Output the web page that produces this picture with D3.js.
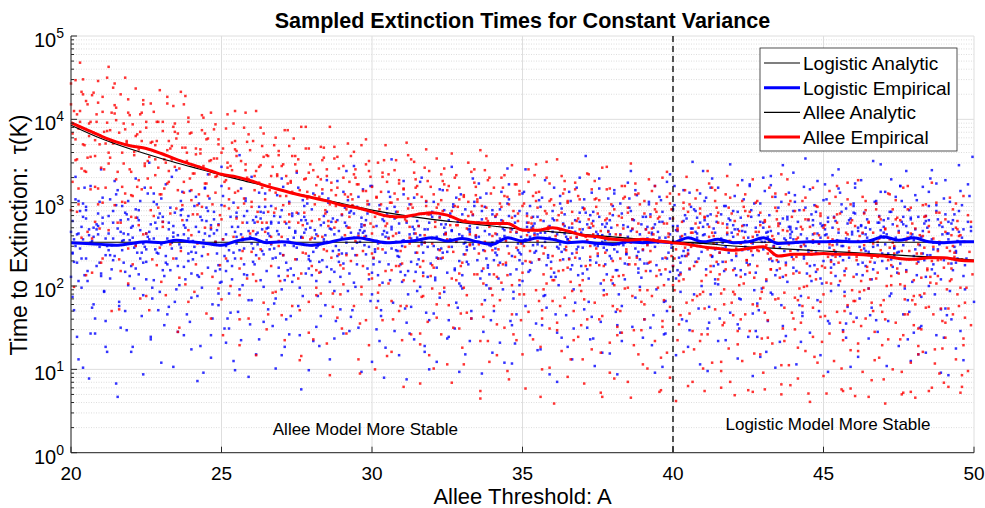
<!DOCTYPE html>
<html><head><meta charset="utf-8">
<script src="https://cdn.jsdelivr.net/npm/d3@7"></script>
<style>
body{margin:0;background:#fff}
text{font-family:"Liberation Sans",Arial,Helvetica,sans-serif;fill:#000}
</style>
</head><body>
<svg id="chart" width="985" height="508"></svg>
<script>
// ---------- data ----------
const xTickValues = [20, 25, 30, 35, 40, 45, 50];
const yTickExponents = [0, 1, 2, 3, 4, 5];
const thresholdLine = 40;
const titleText = "Sampled Extinction Times for Constant Variance";
const xLabelText = "Allee Threshold: A";
const yLabelText = "Time to Extinction:  \u03c4(K)";
const legendLabels = ["Logistic Analytic", "Logistic Empirical", "Allee Analytic", "Allee Empirical"];
const annotations = [{text: "Allee Model More Stable", A: 29.78, tau: 1.63}, {text: "Logistic Model More Stable", A: 45.15, tau: 1.87}];

// Logistic analytic (constant)
const logisticAnalyticA = [20, 50];
const logisticAnalyticTau = [335, 335];

// Empirical curves sampled every 0.5 in A
const empiricalA = [20,20.5,21,21.5,22,22.5,23,23.5,24,24.5,25,25.5,26,26.5,27,27.5,28,28.5,29,29.5,30,30.5,31,31.5,32,32.5,33,33.5,34,34.5,35,35.5,36,36.5,37,37.5,38,38.5,39,39.5,40,40.5,41,41.5,42,42.5,43,43.5,44,44.5,45,45.5,46,46.5,47,47.5,48,48.5,49,49.5,50];
const logisticEmpiricalTau = [331,324,316,309,324,339,331,355,339,324,309,347,372,331,339,324,309,331,363,380,355,331,339,355,380,347,372,339,316,380,347,380,363,331,339,324,316,339,331,339,331,380,339,363,331,339,380,324,331,339,339,347,339,347,389,355,380,339,331,339,339];
const alleeEmpiricalTau = [9120,7590,6310,5370,4790,4470,3890,3310,2880,2510,2190,2040,1820,1580,1410,1260,1150,1050,933,871,776,692,676,724,759,708,603,575,562,562,468,468,501,457,407,389,363,355,363,347,331,316,295,282,269,282,295,229,240,240,245,240,240,234,229,214,209,219,219,204,200];

// Allee analytic, every 1 in A
const alleeAnalyticA = [20,21,22,23,24,25,26,27,28,29,30,31,32,33,34,35,36,37,38,39,40,41,42,43,44,45,46,47,48,49,50];
const alleeAnalyticTau = [8510,5890,4370,3390,2690,2140,1740,1410,1170,977,813,708,631,575,525,479,447,417,389,363,339,324,302,288,275,263,251,240,229,219,204];

// Sampled extinction times: each entry AAALLL, A = 20 + AAA/20, log10(tau) = LLL/100
const logisticSamples = `
003248 001187 007271 005302 002229 008256 004139 009213 006290 000265 003331 007198 005112 001239 008283
012261 017224 010295 015178 019247 013320 011206 018272 016143 014254 012089 019301 010233 017268
021275 026237 023158 028290 020212 025263 029326 022194 027249 024121 021282 028231 026304 023257
034243 031269 038201 036288 032176 039255 030310 035228 037147 033279 031067 038262 036217 034296
041258 046233 043292 048189 040270 045214 049318 042246 047164 044282 041127 048251 046302 043221
052265 057240 054198 059287 050229 055311 051259 058171 056276 053136 050244 057298 055207 052348
063236 068272 061219 066294 069181 064257 060305 067245 062153 065268 068103 061283 064226 067331
071261 076208 073285 078239 070196 075273 079314 072250 077166 074292 071224 078257 075141 073302
082247 087279 084213 089263 080186 085299 081232 088255 086128 083271 089317 080241 087198 084086
093268 098225 091290 096252 099204 094161 090278 097239 092305 095263 098177 091334 096218 093114
101256 106283 103218 108240 100297 105191 109265 102149 107271 104230 100320 107208 103262 109099
112243 117276 114201 119259 110288 115226 111169 118266 116302 113135 110251 117213 115284 112357
123262 128238 121279 126207 129295 124250 120183 127268 122226 125312 128157 121245 126289 123118
131270 136234 133296 138212 130255 135179 139283 132244 137309 134152 131263 138222 136101 133277
142249 147284 144219 149266 140196 145301 141237 148258 146164 143275 140329 147205 145253 142127
153258 158232 151287 156215 159270 154188 150246 157299 152141 155264 158221 151318 156279 153076
161241 166273 163206 168256 160292 165229 169177 162267 167311 164248 161134 168284 166217 163262
172269 177236 174281 179211 170253 175194 171305 178243 176158 173277 170223 177326 175262 172112
183252 188287 181227 186264 189199 184303 180239 187171 182276 185215 188258 181143 186290 183338
191263 196238 193274 198208 190295 195249 199182 192267 197221 194316 191150 198256 196279 193097
202244 207280 204213 209259 200190 205297 201233 208266 206164 203272 200320 207204 204251 209126
213271 218235 211258 216289 219217 214180 210264 217242 212307 215146 218275 211226 216253 213352
221255 226229 223283 228263 220205 225298 229240 222173 227271 224218 221310 228136 226257 223088
232261 237247 234216 239286 230194 235268 231232 238159 236301 233253 230278 237211 235121 232325
241248 246274 243222 248291 240257 245186 249264 242207 247315 244233 241167 248270 246245 243109
253266 258230 251279 256253 259200 254295 250241 257174 252287 255219 258262 251139 256306 253343
262252 267285 264226 269260 260197 265272 261238 268301 266161 263247 260213 267329 265268 262118
271259 276233 273290 278214 270270 275183 279248 272306 277225 274145 271276 278262 276201 273095
282245 287275 284209 289256 280291 285228 281170 288267 286313 283237 280252 287196 285132 282283
293268 298240 291284 296220 299259 294193 290299 297251 292158 295276 298231 291322 296264 293107
301255 306228 303287 308263 300206 305296 309242 302176 307272 304217 300311 307249 305141 302340
312264 317237 314278 319211 310250 315189 311303 318258 316225 313153 310283 317269 315327 312124
323247 328272 321216 326293 329259 324201 320265 327232 322166 325308 328244 321279 326138 323085
331270 336244 333225 338288 330256 335180 339264 332302 337213 334149 331233 338277 336318 333112
342253 347278 344209 349265 340294 345231 341172 348249 346312 343220 340268 347137 345285 342356
353261 358236 351283 356214 359270 354195 350248 357305 352157 355226 358262 351329 356275 353120
361244 366287 363219 368256 360203 365299 369238 362169 367273 364250 361315 368227 366134 363094
372266 377241 374279 379210 370259 375186 371294 378232 376309 373151 370271 377216 375255 372338
383250 388274 381227 386262 389196 384301 380243 387165 382283 385218 388320 381253 386129 383271
391258 396233 393289 398217 390265 395182 399246 392303 397208 394142 391277 398262 396325 393103
402267 407242 404213 409281 400254 405193 401297 408236 406160 403272 400224 407315 405259 402117
413249 418276 411220 416258 419200 414292 410238 417173 412269 415229 418311 411147 416263 413349
421262 426235 423284 428208 420271 425190 429251 422306 427224 424156 421279 428244 426329 423098
432255 437281 434218 439264 430202 435296 431240 438168 436274 433229 430318 437253 435135 432286
441268 446243 443289 448214 440259 445184 449273 442236 447304 444149 441221 448265 446327 443113
453251 458277 451226 456261 459197 454299 450244 457171 452283 455216 458256 451322 456139 453092
462264 467238 464285 469219 460270 465192 461253 468307 466230 463158 460276 467248 465332 462121
471246 476280 473211 478258 470294 475228 479265 472177 477312 474242 471133 478271 476205 473345
482269 487233 484291 489215 480256 485188 481301 488248 486164 483277 480222 487319 485262 482106
493252 498275 491224 496263 499203 494297 490240 497170 492286 495217 498258 491144 496326 493279
501261 506237 503282 508212 500273 505194 509250 502304 507226 504155 501268 508241 506333 503097
512248 517279 514218 519265 510201 515293 511236 518167 516275 513231 510317 517256 515138 512289
523266 528242 521287 526213 529258 524185 520299 527245 522162 525272 528224 521323 526263 523115
531253 536276 533220 538260 530197 535302 539239 532174 537284 534228 531268 538313 536145 533350
542262 547236 544289 549216 540271 545191 541250 548307 546223 543158 540279 547246 545328 542104
553249 558282 551227 556264 559205 554295 550241 557169 552277 555219 558259 551320 556136 553274
561268 566239 563283 568211 560255 565187 569270 562303 567231 564150 561244 568278 566319 563118
572256 577273 574215 579262 570200 575297 571237 578172 576280 573226 570313 577251 575141 572339
583263 588240 581286 586219 589254 584194 580305 587247 582165 585275 588228 581327 586268 583093
591250 596277 593212 598266 590290 595233 600181 592258 597308 594225 591146 598271 596322 593111 599355
002256 004228 001278 003304 000211 002171 004262 001240
013252 007233 010281 005206 012268 008299 014174 006245 011218 009318 013143 005263 010291 008102
023237 017274 020215 015259 022193 018287 024248 016161 021306 019228 023127 015270 020340 018262
033265 027220 030297 025243 032181 028276 034254 026209 031315 029236 033150 025284 030083 028257
043249 037286 040224 035263 042197 038302 044240 036170 041272 039212 043329 035255 040121 038280
053274 047240 050208 045291 052256 048228 054185 046267 051311 049247 053139 045279 050263 048094
063228 057269 060250 055301 062212 058282 064166 056244 061277 059193 063322 055257 060108 058239
073291 067252 070233 065276 072201 068264 074313 066219 071145 069288 073246 065175 070339 068259
083240 077279 080215 075262 082296 078230 084188 076270 081254 079157 083307 075223 080124 078284
093273 087236 090294 085211 092260 088247 094178 086283 091222 089318 093141 085265 090251 088096
103248 097267 100205 095289 102236 098274 104161 096253 101308 099220 103132 095280 100343 098191
113262 107224 110283 105243 112196 108300 114255 106168 111271 109233 113317 105149 110259 108110
123237 117290 120251 115214 122276 118183 124264 116305 121229 119154 123283 115245 120331 118091
133275 127242 130218 125295 132260 128199 134233 126281 131172 129311 133250 125136 130269 128288
143228 137266 140291 135245 142207 138276 144256 136185 141319 139239 143160 135284 140117 138262
153259 147287 150232 145270 152198 148248 154303 146221 151176 149264 153279 145142 150336 148213
163246 157275 160213 155296 162257 158236 164188 156268 161311 159230 163151 155283 160249 158099
173268 167231 170289 165250 172205 168276 174242 166164 171300 169261 173220 165128 170327 168253
183239 177279 180258 175217 182294 178266 184194 176248 181313 179172 183272 175137 180285 178229
193271 187245 190226 185288 192253 188204 194264 186163 191307 189237 193282 185146 190252 188344
203254 197287 200216 195266 202241 198298 204182 196260 201226 199320 203148 195273 200109 198247
213245 207262 210293 205229 212207 208278 214252 206171 211313 209240 213268 205134 210286 208090
223276 217236 220254 215295 222213 218264 224190 216243 221326 219226 223156 215281 220248 218117
233250 227284 230226 225262 232199 228306 234240 226175 231272 229217 233330 225143 230258 228268
243234 237268 240289 235252 242210 238276 244244 236168 241301 239227 243259 235128 240283 238100
253267 247240 250216 245283 252256 248193 254298 246233 251159 249274 253247 245316 250137 248262
263243 257277 260260 255221 262292 258203 264268 256180 261251 259310 263229 255149 260286 258097
273280 267250 270231 265265 272209 268296 274243 266170 271323 269258 273218 265134 270276 268245
283254 277222 280286 275266 282240 278197 284275 276311 281231 279159 283262 275295 280120 278249
293236 287269 290248 285292 292214 288260 294185 286279 291304 289225 293153 285257 290341 288108
303271 297243 300227 295284 302256 298201 304265 296166 301313 299238 303276 295131 300251 298290
313248 307283 310262 305219 312295 308240 314188 306270 311232 309155 313306 305259 310123 308275
323262 317234 320290 315253 322211 318272 324245 316174 321318 319229 323144 315264 320281 318094
333239 327275 330256 325299 332220 328263 334196 326241 331313 329165 333270 325250 330127 328286
343274 337247 340215 335265 342288 338233 344181 336258 341304 339224 343150 335279 340246 338330
353253 347289 350236 345270 352203 348258 354246 346163 351317 349228 353274 345136 350262 348104
363241 357266 360296 355255 362219 358279 364190 356243 361311 359233 363153 355271 360285 358119
373280 367249 370226 365262 372290 368208 374256 366176 371305 369239 373268 365144 370324 368252
383257 377221 380283 375245 382268 378199 384298 376236 381160 379274 383227 375315 380138 378262
393233 387270 390255 385286 392214 388247 394181 386264 391307 389225 393277 385150 390252 388096
403266 397240 400292 395258 402209 398281 404234 396170 401320 399250 403219 395143 400272 398334
413251 407278 410243 405216 412295 408262 414190 406236 411312 409158 413269 405228 410127 408285
423274 417233 420261 415290 422220 418248 424175 416282 421302 419241 423149 415265 420338 418106
433245 427269 430226 425286 432257 428203 434296 426236 431161 429277 433252 425318 430134 428264
443268 437240 440290 435254 442213 438279 444185 436262 441308 439231 443154 435247 440273 438346
453237 447273 450258 445219 452291 448247 454195 446266 451320 449228 453167 445282 450139 448254
463259 457285 460244 455270 462206 458299 464232 456179 461314 459253 463265 455146 460330 458115
473281 467248 470229 465266 472301 468213 474257 466190 471275 469236 473152 465321 470263 468102
483243 477271 480290 475255 482218 478262 484177 476283 481309 479235 483252 475140 480336 478268
493262 487236 490279 485248 492206 488294 494225 486168 491316 489257 493273 485133 490243 488353
503277 497251 500230 495289 502262 498209 504246 496183 501322 499272 503158 495240 500303 498117
513248 507283 510264 505222 512298 508239 514193 506270 511312 509255 513147 505231 510340 508278
523270 517234 520296 515257 522214 518281 524247 516175 521318 519262 523226 515155 520288 518103
533254 527288 530241 525273 532208 528262 534301 526228 531165 529280 533247 525327 530137 528270
543239 537276 540258 535299 542221 538267 544188 536249 541313 539230 543281 535159 540264 538346
553283 547245 550266 545232 552302 548255 554197 546274 551320 549240 553166 545289 550128 548258
563257 557291 560236 555272 562213 558280 564249 556183 561309 559262 563229 555338 560144 558110
573244 567275 570296 565259 572220 568284 574190 566266 571329 569237 573252 565152 570279 568120
583277 577250 580231 575290 582263 578208 584301 576244 581173 579271 583256 575323 580138 578096
593253 587286 590265 585227 592297 588242 594196 586279 591314 589233 593268 585160 590345 588125
`;

const alleeSamples = `
002199 007258 000291 005317 009338 003351 008370 001383 006397 004406 000418 008430 003447 006468
014216 011265 018298 016319 010337 013355 019370 015384 012395 017406 011418 014429 018446 016277
027170 021233 025267 029297 023318 020342 026354 028371 022385 024396 027408 021427 029443 025463
033218 038245 031276 036300 030328 039340 034360 037374 032384 035395 038408 030414 033430 036311
046185 041226 048262 043282 040309 045327 049347 042361 047374 044382 041394 046406 048418 043437
052171 057225 050263 055284 059310 053318 058342 051350 056369 054373 050390 057397 053419 059435
063189 068233 061271 066287 060310 064323 069343 062352 067368 065374 068391 061397 064419 066250
071145 076202 073242 078267 070293 075312 079329 072341 077360 074366 071383 078397 075418 073433
082193 087215 084251 089270 080303 085310 081335 088344 086359 083365 089383 080384 087405 084286
093161 098197 091238 096253 099285 094298 090323 097332 092350 095353 098370 091377 096394 093408
101141 106200 103233 108259 100280 105293 109312 102325 107339 104348 100360 107372 103389 109410
112160 117209 114242 119263 110281 115299 111314 118328 116339 113350 110362 117373 115390 112221
123117 128180 121214 126244 129265 124289 120301 127318 122332 125343 128355 121374 126390 123410
131166 136193 133224 138248 130276 135288 139308 132322 137332 134343 131356 138362 136378 133259
142135 147176 144212 149232 140259 145277 141297 148311 146324 143332 140344 147356 145368 142387
153116 158181 151209 156239 159256 154273 150288 157305 152315 155328 158336 151352 156365 153391
161136 166191 163219 168244 160258 165280 169291 162309 167316 164331 161339 168354 166367 163198
172093 177162 174191 179225 170242 175270 171278 178299 176309 173324 170332 177355 175367 172391
183143 188176 181202 186230 189254 184270 180286 187304 182310 185325 188334 181344 186356 183237
191112 196159 193190 198214 190237 195259 199275 192293 197302 194314 191322 198338 196346 193369
202100 207159 204192 209218 200239 205252 201271 208284 206298 203307 200319 207331 204348 209369
213121 218170 211203 216224 219242 214260 210275 217289 212300 215311 218323 211334 216351 213182
221079 226142 223176 228206 220227 225251 229263 222280 227294 224305 221317 228336 226352 223372
232130 237157 234188 239212 230240 235252 231272 238286 236296 233307 230320 237326 235342 232223
241101 246142 243178 248198 240225 245243 249263 242277 247290 244298 241310 248322 246334 243353
253084 258149 251177 256207 259224 254241 250256 257273 252283 255296 258304 251320 256333 253359
261106 266161 263189 268214 260228 265250 269261 262279 267286 264301 261309 268324 266337 263168
272065 277134 274163 279197 270214 275242 271250 278271 276281 273296 270304 277327 275339 272363
283117 288150 281176 286204 289228 284244 280260 287278 282284 285299 288308 281318 286330 283211
291088 296135 293166 298190 290213 295235 299251 292269 297278 294290 291298 298314 296322 293345
302077 307136 304169 309195 300216 305229 301248 308261 306275 303284 300296 307308 304325 309346
313100 318149 311182 316203 319221 314239 310254 317268 312279 315290 318302 311313 316330 313161
321059 326122 323156 328186 320207 325231 329243 322260 327274 324285 321297 328316 326332 323352
332112 337139 334170 339194 330222 335234 331254 338268 336278 333289 330302 337308 335324 332205
341083 346124 343160 348180 340207 345225 349245 342259 347272 344280 341292 348304 346316 343335
353067 358132 351160 356190 359207 354224 350239 357256 352266 355279 358287 351303 356316 353342
361089 366144 363172 368197 360211 365233 369244 362262 367269 364284 361292 368307 366320 363151
372066 377118 374147 379181 370198 375226 371234 378255 376265 373280 370288 377311 375323 372347
383101 388134 381160 386188 389212 384228 380244 387262 382268 385283 388292 381302 386314 383195
391073 396120 393151 398175 390198 395220 399236 392254 397263 394275 391283 398299 396307 393330
402062 407121 404154 409180 400201 405214 401233 408246 406260 403269 400281 407293 404310 409331
413085 418134 411167 416188 419206 414224 410239 417253 412264 415275 418287 411298 416315 413146
421074 426108 423142 428172 420193 425217 429229 422246 427260 424271 421283 428302 426318 423338
432098 437125 434156 439180 430208 435220 431240 438254 436264 433275 430288 437294 435310 432191
441069 446110 443146 448166 440193 445211 449231 442245 447258 444266 441278 448290 446302 443321
453073 458118 451146 456176 459193 454210 450225 457242 452252 455265 458273 451289 456302 453328
461076 466131 463159 468184 460198 465220 469231 462249 467256 464271 461279 468294 466307 463138
472070 477105 474134 479168 470185 475213 471221 478242 476252 473267 470275 477298 475310 472334
483089 488122 481148 486176 489200 484216 480232 487250 482256 485271 488280 481290 486302 483183
491061 496108 493139 498163 490186 495208 499224 492242 497251 494263 491271 498287 496295 493318
502071 507110 504143 509169 500190 505203 501222 508235 506249 503258 500270 507282 504299 509320
513074 518123 511156 516177 519195 514213 510228 517242 512253 515264 518276 511287 516304 513135
521068 526097 523131 528161 520182 525206 529218 522235 527249 524260 521272 528291 526307 523327
532087 537114 534145 539169 530197 535209 531229 538243 536253 533264 530277 537283 535299 532180
541059 546100 543136 548156 540183 545201 549221 542235 547248 544256 541268 548280 546292 543311
553072 558108 551136 556166 559183 554200 550215 557232 552242 555255 558263 551279 556292 553318
561066 566121 563149 568174 560188 565210 569221 562239 567246 564261 561269 568284 566297 563128
572078 577095 574124 579158 570175 575203 571211 578232 576242 573257 570265 577288 575300 572324
583079 588112 581138 586166 589190 584206 580222 587240 582246 585261 588270 581280 586292 583173
591072 596098 593129 598153 590176 595198 599214 592232 597241 594253 591261 598277 596285 593308
002410 004352 001325 003376 000443 004289
013397 007341 010422 005298 012380 008448 014257 006410 011354 009369 007433 013316 005389 010213
016356 021409 018317 024386 019269 015432 022340 017397 023371 020228 018420 021300 024450 016375
030399 034319 025360 029417 033276 027374 031337 028438 032232 026387 034301 029407 025347 032172
042357 038424 044319 036388 040283 035347 039405 043248 037372 041308 036450 040337 043380 038203
053372 047316 050397 045273 052355 048423 054232 046385 051329 049344 047408 053291 045364 050188
056333 061386 058294 064363 059246 055409 062317 057374 063348 060205 058397 061277 064427 056352
070377 074297 065338 069395 073254 067352 071315 068416 072210 066365 074279 069385 065325 072150
082335 078402 084297 076366 080261 075325 079383 083226 077350 081286 076428 080315 083358 078181
093351 087295 090376 085252 092334 088402 094211 086364 091308 089323 087387 093270 085343 090167
096312 101365 098273 104342 099225 095388 102296 097353 103327 100184 098376 101256 104406 096331
110356 114276 105317 109374 113233 107331 111294 108395 112189 106344 114258 109364 105304 112129
122315 118382 124277 116346 120241 115305 119363 123206 117330 121266 116408 120295 123338 118161
133332 127276 130357 125233 132315 128383 134192 126345 131289 129304 127368 133251 125324 130148
136293 141346 138254 144323 139206 135369 142277 137334 143308 140165 138357 141237 144387 136312
150338 154258 145299 149356 153215 147313 151276 148377 152171 146326 154240 149346 145286 152111
162298 158365 164260 156329 160224 155288 159346 163189 157313 161249 156391 160278 163321 158144
173315 167259 170340 165216 172298 168366 174175 166328 171272 169287 167351 173234 165307 170131
176277 181330 178238 184307 179190 175353 182261 177318 183292 180149 178341 181221 184371 176296
190322 194242 185283 189340 193199 187297 191260 188361 192155 186310 194224 189330 185270 192095
202283 198350 204245 196314 200209 195273 199331 203174 197298 201234 196376 200263 203306 198129
213300 207244 210325 205201 212283 208351 214160 206313 211257 209272 207336 213219 205292 210116
216263 221316 218224 224293 219176 215339 222247 217304 223278 220135 218327 221207 224357 216282
230310 234230 225271 229328 233187 227285 231248 228349 232143 226298 234212 229318 225258 232083
242271 238338 244233 236302 240197 235261 239319 243162 237286 241222 236364 240251 243294 238117
253290 247234 250315 245191 252273 248341 254150 246303 251247 249262 247326 253209 245282 250106
256254 261307 258215 264284 259167 255330 262238 257295 263269 260126 258318 261198 264348 256273
270301 274221 265262 269319 273178 267276 271239 268340 272134 266289 274203 269309 265249 272074
282263 278330 284225 276294 280189 275253 279311 283154 277278 281214 276356 280243 283286 278109
293282 287226 290307 285183 292265 288333 294142 286295 291239 289254 287318 293201 285274 290098
296246 301299 298207 304276 299159 295322 302230 297287 303261 300118 298310 301190 304340 296265
310294 314214 305255 309312 313171 307269 311232 308333 312127 306282 314196 309302 305242 312067
322256 318323 324218 316287 320182 315246 319304 323147 317271 321207 316349 320236 323279 318102
333275 327219 330300 325176 332258 328326 334135 326288 331232 329247 327311 333194 325267 330091
336240 341293 338201 344270 339153 335316 342224 337281 343255 340112 338304 341184 344334 336259
350287 354207 345248 349305 353164 347262 351225 348326 352120 346275 354189 349295 345235 352072
362250 358317 364212 356281 360176 355240 359298 363141 357265 361201 356343 360230 363273 358096
373269 367213 370294 365170 372252 368320 374129 366282 371226 369241 367305 373188 365261 370085
376234 381287 378195 384264 379147 375310 382218 377275 383249 380106 378298 381178 384328 376253
390281 394201 385242 389299 393158 387256 391219 388320 392114 386269 394183 389289 385229 392075
402244 398311 404206 396275 400170 395234 399292 403135 397259 401195 396337 400224 403267 398090
413264 407208 410289 405165 412247 408315 414124 406277 411221 409236 407300 413183 405256 410080
416229 421282 418190 424259 419142 415305 422213 417270 423244 420101 418293 421173 424323 416248
430276 434196 425237 429294 433153 427251 431214 428315 432109 426264 434178 429284 425224 432078
442239 438306 444201 436270 440165 435229 439287 443130 437254 441190 436332 440219 443262 438085
453259 447203 450284 445160 452242 448310 454119 446272 451216 449231 447295 453178 445251 450075
456224 461277 458185 464254 459137 455300 462208 457265 463239 460096 458288 461168 464318 456243
470272 474192 465233 469290 473149 467247 471210 468311 472105 466260 474174 469280 465220 472082
482235 478302 484197 476266 480161 475225 479283 483126 477250 481186 476328 480215 483258 478081
493255 487199 490280 485156 492238 488306 494115 486268 491212 489227 487291 493174 485247 490071
496220 501273 498181 504250 499133 495296 502204 497261 503235 500092 498284 501164 504314 496239
510268 514188 505229 509286 513145 507243 511206 508307 512101 506256 514170 509276 505216 512076
522231 518298 524193 516262 520157 515221 519279 523122 517246 521182 516324 520211 523254 518077
533251 527195 530276 525152 532234 528302 534111 526264 531208 529223 527287 533170 525243 530067
536216 541269 538177 544246 539129 535292 542200 537257 543231 540088 538280 541160 544310 536235
550264 554184 545225 549282 553141 547239 551202 548303 552097 546252 554166 549272 545212 552070
562227 558294 564189 556258 560153 555217 559275 563118 557242 561178 556320 560207 563250 558073
573247 567191 570272 565148 572230 568298 574107 566260 571204 569219 567283 573166 565239 570074
576212 581265 578173 584242 579125 575288 582196 577253 583227 580084 578276 581156 584306 576231
590260 594180 585221 589278 593137 587235 591198 588299 592093 586248 594162 589268 585208 592079
`;

// ---------- layout ----------
const svg = d3.select("#chart");
const W = 985, H = 508;
const plot = {left: 71, right: 974, top: 36, bottom: 452.7};
const axisColor = "#262626";

svg.append("rect").attr("width", W).attr("height", H).attr("fill", "#fff");

const x = d3.scaleLinear().domain([20, 50]).range([plot.left, plot.right]);
const y = d3.scaleLog().domain([1, 1e5]).range([plot.bottom, plot.top]);

function decode(s) {
  return s.trim().split(/\s+/).map(t => ({A: 20 + (+t.slice(0, 3)) / 20, tau: Math.pow(10, (+t.slice(3)) / 100)}));
}
const logisticPts = decode(logisticSamples);
const alleePts = decode(alleeSamples);

// ---------- grid ----------
const grid = svg.append("g");
const allYTicks = y.ticks();
const majorY = yTickExponents.map(e => Math.pow(10, e));
const minorY = allYTicks.filter(v => !majorY.some(m => Math.abs(m - v) < 1e-9));
grid.selectAll(".minY").data(minorY).join("line")
  .attr("x1", plot.left).attr("x2", plot.right)
  .attr("y1", d => y(d)).attr("y2", d => y(d))
  .attr("stroke", "#d4d4d4").attr("stroke-width", 0.8).attr("stroke-dasharray", "1,1.5");
grid.selectAll(".majY").data(majorY).join("line")
  .attr("x1", plot.left).attr("x2", plot.right)
  .attr("y1", d => y(d)).attr("y2", d => y(d))
  .attr("stroke", "#dedede").attr("stroke-width", 1);
grid.selectAll(".majX").data(xTickValues).join("line")
  .attr("x1", d => x(d)).attr("x2", d => x(d))
  .attr("y1", plot.top).attr("y2", plot.bottom)
  .attr("stroke", "#dedede").attr("stroke-width", 1);

// ---------- scatter ----------
const sc = svg.append("g");
const dot = 2.5;
sc.selectAll(".lp").data(logisticPts).join("rect")
  .attr("x", d => x(d.A) - dot / 2).attr("y", d => y(d.tau) - dot / 2)
  .attr("width", dot).attr("height", dot).attr("fill", "#0000ff").attr("opacity", 0.8);
sc.selectAll(".ap").data(alleePts).join("rect")
  .attr("x", d => x(d.A) - dot / 2).attr("y", d => y(d.tau) - dot / 2)
  .attr("width", dot).attr("height", dot).attr("fill", "#ff0000").attr("opacity", 0.8);

// ---------- curves ----------
const lineGen = d3.line().x(d => x(d[0])).y(d => y(d[1])).curve(d3.curveMonotoneX);
const curves = [
  {A: logisticAnalyticA, tau: logisticAnalyticTau, color: "#000", w: 1.2},
  {A: empiricalA, tau: logisticEmpiricalTau, color: "#0000ff", w: 3},
  {A: alleeAnalyticA, tau: alleeAnalyticTau, color: "#000", w: 1.2},
  {A: empiricalA, tau: alleeEmpiricalTau, color: "#ff0000", w: 3}
];
curves.forEach(c => {
  svg.append("path").datum(c.A.map((a, i) => [a, c.tau[i]]))
    .attr("d", lineGen).attr("fill", "none")
    .attr("stroke", c.color).attr("stroke-width", c.w).attr("stroke-linejoin", "round");
});

// threshold line
svg.append("line").attr("x1", x(thresholdLine)).attr("x2", x(thresholdLine))
  .attr("y1", plot.top).attr("y2", plot.bottom)
  .attr("stroke", "#000").attr("stroke-width", 1.3).attr("stroke-dasharray", "6,4");

// ---------- axes ----------
const ax = svg.append("g");
ax.append("line").attr("x1", plot.left).attr("x2", plot.right).attr("y1", plot.bottom).attr("y2", plot.bottom).attr("stroke", axisColor);
ax.append("line").attr("x1", plot.left).attr("x2", plot.left).attr("y1", plot.top).attr("y2", plot.bottom).attr("stroke", axisColor);
ax.selectAll(".xt").data(xTickValues).join("line")
  .attr("x1", d => x(d)).attr("x2", d => x(d)).attr("y1", plot.bottom).attr("y2", plot.bottom - 6)
  .attr("stroke", axisColor);
ax.selectAll(".xl").data(xTickValues).join("text")
  .attr("x", d => x(d)).attr("y", 480).attr("text-anchor", "middle")
  .attr("font-size", 19).text(d => d);
ax.selectAll(".ytM").data(majorY).join("line")
  .attr("x1", plot.left).attr("x2", plot.left + 6).attr("y1", d => y(d)).attr("y2", d => y(d)).attr("stroke", axisColor);
ax.selectAll(".ytm").data(minorY).join("line")
  .attr("x1", plot.left).attr("x2", plot.left + 3).attr("y1", d => y(d)).attr("y2", d => y(d)).attr("stroke", axisColor);
const yl = ax.selectAll(".yl").data(yTickExponents).join("text")
  .attr("x", 64).attr("y", d => y(Math.pow(10, d)) + 11).attr("text-anchor", "end").attr("font-size", 20);
yl.append("tspan").text("10");
yl.append("tspan").attr("dy", -9).attr("font-size", 14).text(d => d);

// ---------- labels ----------
svg.append("text").attr("x", (plot.left + plot.right) / 2).attr("y", 28).attr("text-anchor", "middle")
  .attr("font-size", 21.5).attr("font-weight", "bold").text(titleText);
svg.append("text").attr("x", (plot.left + plot.right) / 2).attr("y", 504).attr("text-anchor", "middle")
  .attr("font-size", 22).text(xLabelText);
svg.append("text").attr("transform", "translate(27,235) rotate(-90)").attr("text-anchor", "middle")
  .attr("font-size", 23).style("white-space", "pre").text(yLabelText);

annotations.forEach(a => {
  svg.append("text").attr("x", x(a.A)).attr("y", y(a.tau)).attr("text-anchor", "middle")
    .attr("font-size", 17).text(a.text);
});

// ---------- legend ----------
const lg = svg.append("g");
lg.append("rect").attr("x", 760).attr("y", 48).attr("width", 197).attr("height", 103)
  .attr("fill", "#fff").attr("stroke", axisColor).attr("stroke-width", 0.8);
legendLabels.forEach((lab, i) => {
  const cy = 63 + i * 24.7;
  lg.append("line").attr("x1", 764).attr("x2", 800).attr("y1", cy).attr("y2", cy)
    .attr("stroke", curves[i].color).attr("stroke-width", curves[i].w);
  lg.append("text").attr("x", 803).attr("y", cy + 7).attr("font-size", 19).text(lab);
});
</script>
</body></html>
